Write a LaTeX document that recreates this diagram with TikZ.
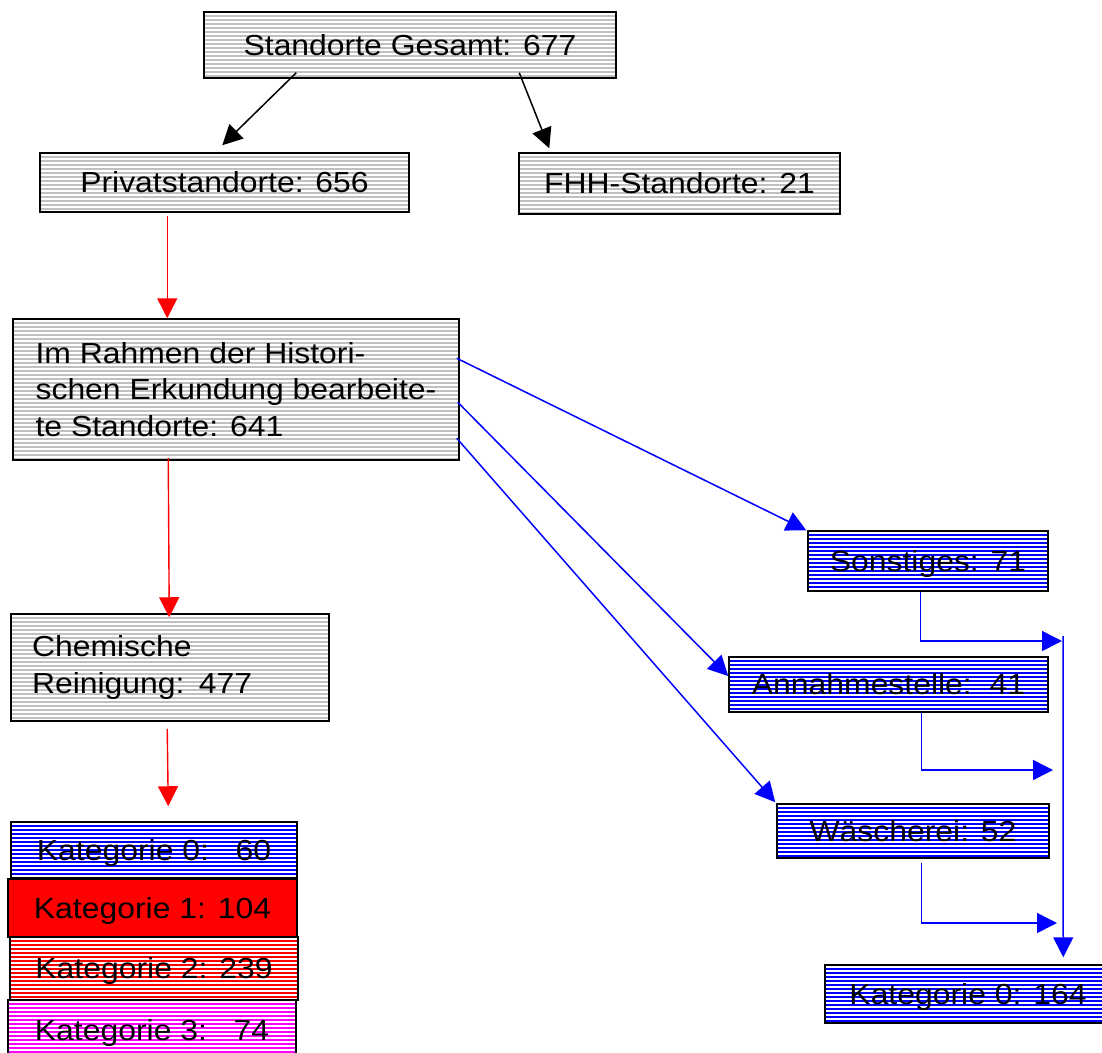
\documentclass[tikz,border=0pt]{standalone}
\usepackage{fontspec}
\setmainfont{Liberation Sans}[FakeStretch=1.1]
\usetikzlibrary{arrows.meta}
\definecolor{boxgray}{RGB}{192,192,192}
\definecolor{boxblue}{RGB}{0,0,255}
\definecolor{boxred}{RGB}{255,0,0}
\definecolor{boxmag}{RGB}{255,0,255}
\tikzset{
  lbl/.style={font=\fontsize{29pt}{36.5pt}\selectfont, text=black},
  frame/.style={draw=black, line width=1.5pt, inner sep=0pt, lbl},
  striped/.style={frame, fill=#1,
    path picture={
      \foreach \i in {2,6,...,150}
        \draw[white, line width=1.3pt]
          ([yshift=-\i pt]path picture bounding box.north west) --
          ([yshift=-\i pt]path picture bounding box.north east);
    }},
  box/.style={striped=#1, text height=20.7pt, text depth=0pt},
  solidbox/.style={frame, fill=#1, text height=20.7pt, text depth=0pt},
  multibox/.style={striped=#1, align=left},
  tip/.style={-{Triangle[length=20pt,width=20pt]}},
  blk/.style={draw=black, line width=1.5pt, tip},
  redarr/.style={draw=boxred, line width=1.4pt, tip},
  bluarr/.style={draw=boxblue, line width=1.5pt, tip}
}
\begin{document}
\begin{tikzpicture}[x=1pt,y=-1pt]
\useasboundingbox[fill=white] (0,0) rectangle (1102,1052);

\node[box=boxgray, minimum width=412pt, minimum height=66pt] (gesamt) at (410,45) {Standorte Gesamt: 677};
\node[box=boxgray, minimum width=369pt, minimum height=59pt] (priv) at (224.5,182.5) {Privatstandorte: 656};
\node[box=boxgray, minimum width=321pt, minimum height=61pt] (fhh) at (679.5,183.5) {FHH-Standorte: 21};
\node[multibox=boxgray, minimum width=446pt, minimum height=141pt] (hist) at (236,389.5)
  {Im Rahmen der Histori-\\schen Erkundung bearbeite-\\te Standorte: 641};
\node[multibox=boxgray, minimum width=318pt, minimum height=107pt, text width=276pt] (chem) at (170,667.5)
  {Chemische\\Reinigung: 477};

\node[box=boxblue, minimum width=286pt, minimum height=56pt] (k0) at (154,850) {Kategorie 0:\ \ \ 60};
\node[box=boxred, minimum width=288pt, minimum height=63pt] (k2) at (154,968.5) {Kategorie 2: 239};
\node[solidbox=boxred, minimum width=289pt, minimum height=58pt] (k1) at (152.5,908) {Kategorie 1: 104};
\node[box=boxmag, minimum width=288pt, minimum height=60pt] (k3) at (152,1030) {Kategorie 3:\ \ \ 74};

\node[box=boxblue, minimum width=240pt, minimum height=60pt] (sons) at (928,561) {Sonstiges: 71};
\node[box=boxblue, minimum width=319pt, minimum height=55pt] (annahme) at (888.5,684.5) {Annahmestelle:\ \ 41};
\node[box=boxblue, minimum width=272pt, minimum height=54pt] (wasch) at (913,831) {Wäscherei: 52};
\node[box=boxblue, minimum width=286pt, minimum height=58pt] (kat164) at (968,994) {Kategorie 0: 164};

\draw[blk] ([xshift=93pt,yshift=6pt]gesamt.south west) -- ([xshift=183pt,yshift=7pt]priv.north west);
\draw[blk] ([xshift=316pt,yshift=6pt]gesamt.south west) -- ([xshift=31pt,yshift=4pt]fhh.north west);

\draw[redarr] ([xshift=128pt,yshift=-3pt]priv.south west) -- ([xshift=155pt]hist.north west);
\draw[redarr] ([xshift=156pt,yshift=3pt]hist.south west) -- ([xshift=159pt,yshift=-4pt]chem.north west);
\draw[redarr] ([xshift=157pt,yshift=-7pt]chem.south west) -- ([xshift=158pt,yshift=15pt]k0.north west);

\draw[bluarr] ([xshift=-3pt,yshift=-40pt]hist.north east) -- ([xshift=-1pt]sons.north west);
\draw[bluarr] ([xshift=-2pt,yshift=-84pt]hist.north east) -- ([yshift=8.5pt]annahme.west);
\draw[bluarr] ([xshift=-3pt,yshift=-120pt]hist.north east) -- ([xshift=-1pt,yshift=1pt]wasch.north west);

\coordinate (e1) at (1062,641);
\coordinate (e2) at (1053,770);
\coordinate (e3) at (1057,923);
\coordinate (bus) at (1063,636);
\draw[bluarr] ([xshift=113pt]sons.south west) |- (e1);
\draw[bluarr] ([xshift=193pt]annahme.south west) |- (e2);
\draw[bluarr] ([xshift=145pt,yshift=-4pt]wasch.south west) |- (e3);
\draw[bluarr] (bus) -- ([xshift=239pt,yshift=7pt]kat164.north west);
\end{tikzpicture}
\end{document}
